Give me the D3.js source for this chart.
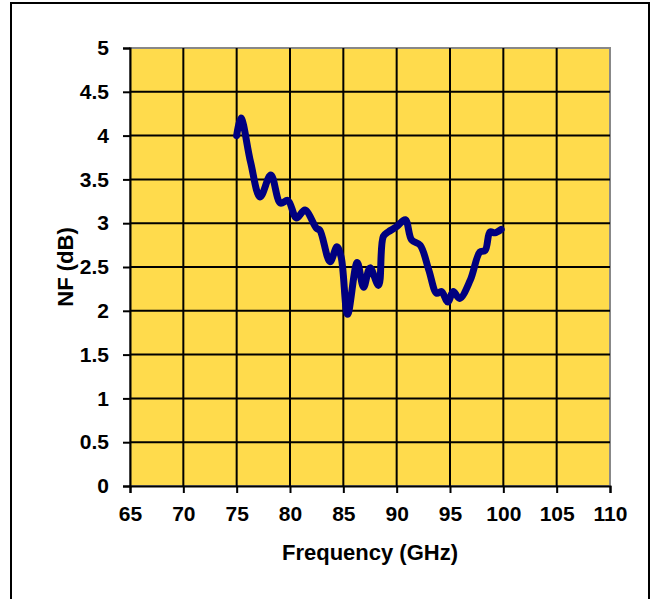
<!DOCTYPE html>
<html>
<head>
<meta charset="utf-8">
<script src="https://cdnjs.cloudflare.com/ajax/libs/d3/7.8.5/d3.min.js"></script>
<style>
body { margin:0; background:#fff; }
svg text { font-family: 'Liberation Sans', Arial, sans-serif; font-weight:bold; fill:#000; }
</style>
</head>
<body>
<div id="chart"></div>
<script>
// Noise figure vs frequency
var freq = [75, 75.4, 76.3, 77.2, 78.2, 79.1, 79.8, 80.6, 81.4, 82.5, 82.8, 83.75, 84.4, 84.8, 85.4, 86.3, 86.9, 87.5, 88.3, 88.75, 89.2, 90.0, 90.8, 91.4, 92.2, 93.0, 93.75, 94.2, 94.8, 95.3, 95.9, 96.9, 97.8, 98.3, 98.75, 99.2, 99.8]
var nf   = [4.0, 4.2, 3.7, 3.3, 3.55, 3.23, 3.26, 3.06, 3.15, 2.94, 2.92, 2.56, 2.73, 2.61, 1.96, 2.55, 2.27, 2.49, 2.29, 2.85, 2.9, 2.96, 3.04, 2.81, 2.75, 2.47, 2.2, 2.22, 2.1, 2.22, 2.14, 2.35, 2.67, 2.69, 2.9, 2.89, 2.93]
var xTicks = [65, 70, 75, 80, 85, 90, 95, 100, 105, 110]
var yTicks = [0, 0.5, 1, 1.5, 2, 2.5, 3, 3.5, 4, 4.5, 5]

var W = 652, H = 599
var margin = {left:130, top:48, right:42, bottom:113}
var iw = W - margin.left - margin.right
var ih = H - margin.top - margin.bottom

var svg = d3.select('#chart').append('svg').attr('width', W).attr('height', H)

// outer frame
svg.append('rect').attr('x', 11).attr('y', 3).attr('width', 638).attr('height', 620)
	.attr('fill', '#fff').attr('stroke', '#000').attr('stroke-width', 2)

var g = svg.append('g').attr('transform', 'translate(' + margin.left + ',' + margin.top + ')')

var x = d3.scaleLinear().domain([65, 110]).range([0, iw])
var y = d3.scaleLinear().domain([0, 5]).range([ih, 0])

g.append('rect').attr('width', iw).attr('height', ih)
	.attr('fill', '#FFDB4C').attr('stroke', '#888').attr('stroke-width', 2)

// grid
g.selectAll('.vg').data(xTicks.slice(1, -1)).enter().append('line')
	.attr('x1', function(d) { return x(d) }).attr('x2', function(d) { return x(d) })
	.attr('y1', 0).attr('y2', ih).attr('stroke', '#000').attr('stroke-width', 2)
g.selectAll('.hg').data(yTicks.slice(1, -1)).enter().append('line')
	.attr('y1', function(d) { return y(d) }).attr('y2', function(d) { return y(d) })
	.attr('x1', 0).attr('x2', iw).attr('stroke', '#000').attr('stroke-width', 2)

// axes
var xAxis = g.append('g').attr('transform', 'translate(0,' + ih + ')')
	.call(d3.axisBottom(x).tickValues(xTicks).tickSize(7).tickPadding(13))
var yAxis = g.append('g')
	.call(d3.axisLeft(y).tickValues(yTicks).tickSize(7).tickPadding(14).tickFormat(d3.format('')))
;[xAxis, yAxis].forEach(function(a) {
	a.attr('font-size', null).attr('font-family', null)
	a.selectAll('path').attr('stroke', '#000').attr('stroke-width', 2)
	a.selectAll('line').attr('stroke', '#000').attr('stroke-width', 2)
	a.selectAll('text').style('font-size', '21px')
})

// data line
var line = d3.line()
	.x(function(d, i) { return x(freq[i]) })
	.y(function(d) { return y(d) })
	.curve(d3.curveCatmullRom.alpha(0.5))
g.append('path').datum(nf).attr('d', line)
	.attr('fill', 'none').attr('stroke', '#000080').attr('stroke-width', 7)
	.attr('stroke-linejoin', 'round').attr('stroke-linecap', 'round')

// titles
svg.append('text').attr('x', margin.left + iw / 2).attr('y', 560)
	.attr('text-anchor', 'middle').style('font-size', '22px').text('Frequency (GHz)')
svg.append('text').attr('transform', 'translate(73,' + (margin.top + ih / 2) + ') rotate(-90)')
	.attr('text-anchor', 'middle').style('font-size', '22px').text('NF (dB)')
</script>
</body>
</html>
